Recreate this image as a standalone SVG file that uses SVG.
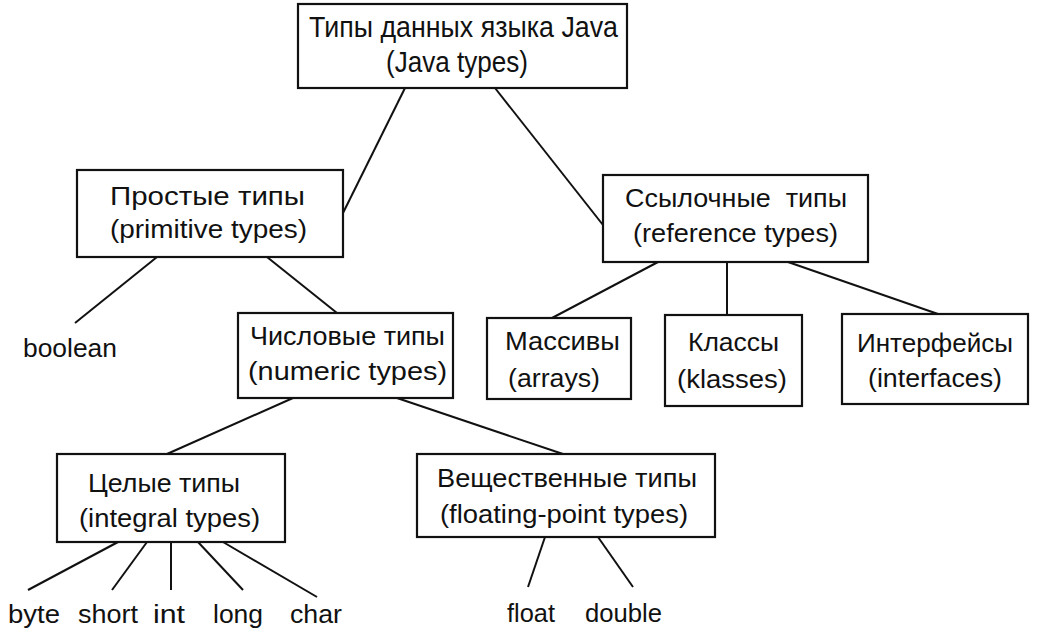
<svg xmlns="http://www.w3.org/2000/svg" width="1037" height="638" viewBox="0 0 1037 638">
<style>
.box{fill:#fff;stroke:#111;stroke-width:2.2}
.ln{stroke:#111;stroke-width:2;fill:none}
text{font-family:"Liberation Sans",Arial,sans-serif;font-size:26px;fill:#111}
.big{font-size:29px}
</style>
<rect width="1037" height="638" fill="#fff"/>
<g id="connectors">
<line class="ln" x1="405" y1="88" x2="343" y2="213"/>
<line class="ln" x1="495" y1="88" x2="603" y2="225"/>
<line class="ln" x1="157" y1="257" x2="75" y2="323"/>
<line class="ln" x1="267" y1="257" x2="337" y2="313"/>
<line class="ln" x1="658" y1="262" x2="552" y2="318"/>
<line class="ln" x1="727" y1="262" x2="727" y2="315"/>
<line class="ln" x1="788" y1="262" x2="938" y2="314"/>
<line class="ln" x1="293" y1="398" x2="167" y2="454"/>
<line class="ln" x1="397" y1="398" x2="563" y2="454"/>
<line class="ln" x1="118" y1="542" x2="28" y2="590"/>
<line class="ln" x1="147" y1="542" x2="112" y2="590"/>
<line class="ln" x1="171" y1="542" x2="171" y2="590"/>
<line class="ln" x1="198" y1="542" x2="243" y2="590"/>
<line class="ln" x1="223" y1="542" x2="317" y2="597"/>
<line class="ln" x1="545" y1="537" x2="528" y2="587"/>
<line class="ln" x1="598" y1="537" x2="633" y2="587"/>
</g>
<g id="java-types">
<rect class="box" x="298" y="4" width="329" height="84"/>
<text class="big" x="309" y="37" textLength="309" lengthAdjust="spacingAndGlyphs">Типы данных языка Java</text>
<text class="big" x="386" y="72" textLength="142" lengthAdjust="spacingAndGlyphs">(Java types)</text>
</g>
<g id="primitive">
<rect class="box" x="77" y="170" width="266" height="87"/>
<text x="110" y="205" textLength="195" lengthAdjust="spacingAndGlyphs">Простые типы</text>
<text x="110" y="238" textLength="197" lengthAdjust="spacingAndGlyphs">(primitive types)</text>
</g>
<g id="reference">
<rect class="box" x="603" y="175" width="265" height="87"/>
<text x="625" y="207" textLength="222" lengthAdjust="spacingAndGlyphs" xml:space="preserve">Ссылочные  типы</text>
<text x="633" y="242" textLength="205" lengthAdjust="spacingAndGlyphs">(reference types)</text>
</g>
<g id="boolean">
<text x="23" y="357" textLength="94" lengthAdjust="spacingAndGlyphs">boolean</text>
</g>
<g id="numeric">
<rect class="box" x="238" y="313" width="215" height="85"/>
<text x="250" y="345" textLength="195" lengthAdjust="spacingAndGlyphs">Числовые типы</text>
<text x="248" y="380" textLength="199" lengthAdjust="spacingAndGlyphs">(numeric types)</text>
</g>
<g id="arrays">
<rect class="box" x="487" y="318" width="144" height="81"/>
<text x="505" y="350" textLength="115" lengthAdjust="spacingAndGlyphs">Массивы</text>
<text x="508" y="387" textLength="92" lengthAdjust="spacingAndGlyphs">(arrays)</text>
</g>
<g id="classes">
<rect class="box" x="665" y="315" width="137" height="91"/>
<text x="688" y="351" textLength="91" lengthAdjust="spacingAndGlyphs">Классы</text>
<text x="677" y="388" textLength="110" lengthAdjust="spacingAndGlyphs">(klasses)</text>
</g>
<g id="interfaces">
<rect class="box" x="842" y="314" width="186" height="90"/>
<text x="857" y="352" textLength="156" lengthAdjust="spacingAndGlyphs">Интерфейсы</text>
<text x="868" y="387" textLength="134" lengthAdjust="spacingAndGlyphs">(interfaces)</text>
</g>
<g id="integral">
<rect class="box" x="57" y="454" width="228" height="88"/>
<text x="88" y="492" textLength="152" lengthAdjust="spacingAndGlyphs">Целые типы</text>
<text x="79" y="527" textLength="181" lengthAdjust="spacingAndGlyphs">(integral types)</text>
</g>
<g id="floating">
<rect class="box" x="417" y="454" width="298" height="83"/>
<text x="437" y="487" textLength="260" lengthAdjust="spacingAndGlyphs">Вещественные типы</text>
<text x="440" y="523" textLength="248" lengthAdjust="spacingAndGlyphs">(floating-point types)</text>
</g>
<g id="byte"><text x="8" y="623" textLength="52" lengthAdjust="spacingAndGlyphs">byte</text></g>
<g id="short"><text x="78" y="623" textLength="60" lengthAdjust="spacingAndGlyphs">short</text></g>
<g id="int"><text x="153" y="623" textLength="32" lengthAdjust="spacingAndGlyphs">int</text></g>
<g id="long"><text x="213" y="623" textLength="50" lengthAdjust="spacingAndGlyphs">long</text></g>
<g id="char"><text x="290" y="623" textLength="52" lengthAdjust="spacingAndGlyphs">char</text></g>
<g id="float"><text x="507" y="622" textLength="48" lengthAdjust="spacingAndGlyphs">float</text></g>
<g id="double"><text x="585" y="622" textLength="77" lengthAdjust="spacingAndGlyphs">double</text></g>
</svg>
